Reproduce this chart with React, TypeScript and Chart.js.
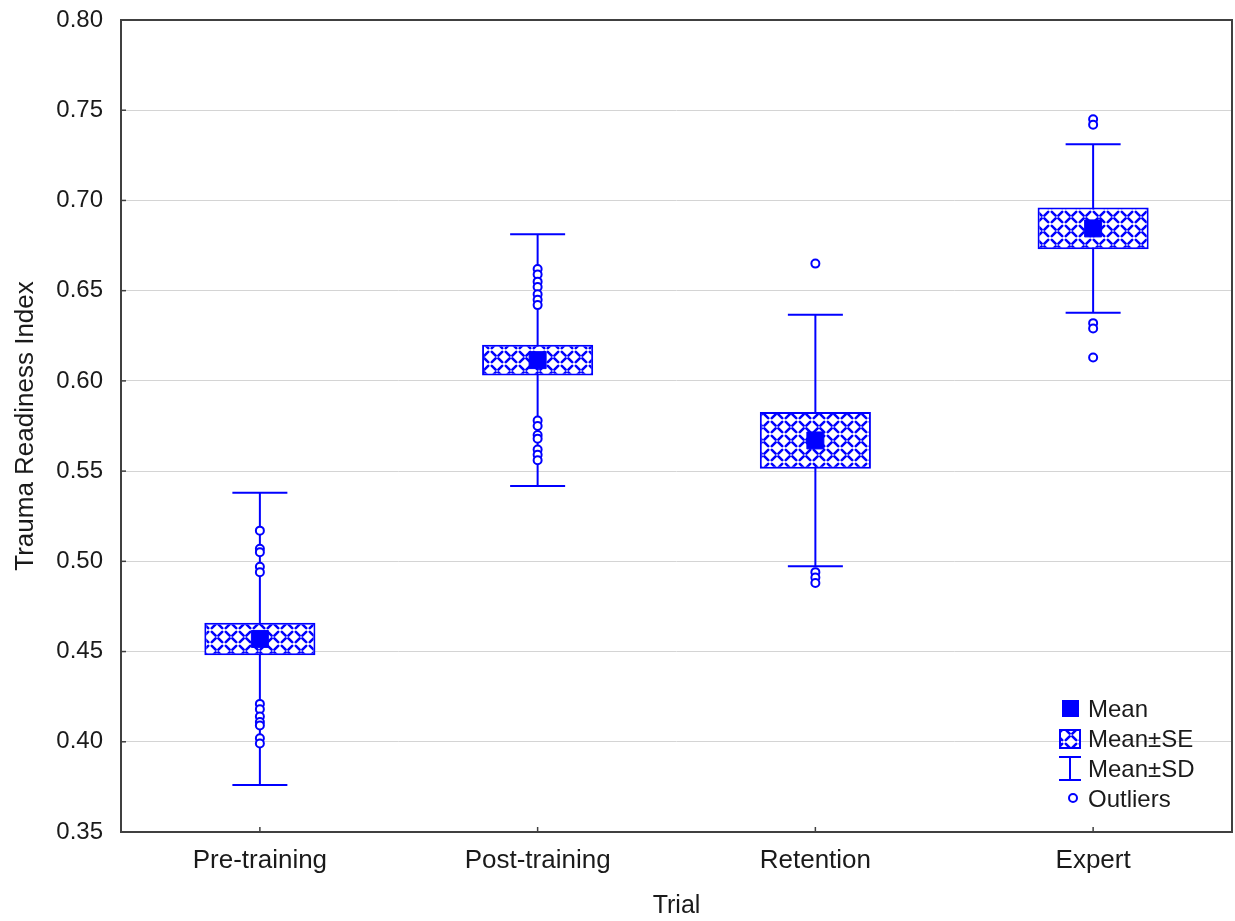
import React, { useEffect, useRef } from "react";
import { Chart, registerables } from "chart.js";

Chart.register(...registerables);

const categories = ["Pre-training", "Post-training", "Retention", "Expert"];
const means = [0.457, 0.6115, 0.567, 0.6845];
const se = [0.009, 0.0085, 0.0157, 0.0116];
const sd = [0.081, 0.0698, 0.0697, 0.0467];
const outliersPre = [0.517, 0.507, 0.505, 0.497, 0.494, 0.421, 0.418, 0.414, 0.411, 0.409, 0.402, 0.399];
const outliersPost = [0.662, 0.659, 0.655, 0.652, 0.648, 0.645, 0.642, 0.578, 0.575, 0.57, 0.568, 0.562, 0.559, 0.556];
const outliersRetention = [0.665, 0.494, 0.491, 0.488];
const outliersExpert = [0.745, 0.742, 0.632, 0.629, 0.613];
const outlierGroups = [outliersPre, outliersPost, outliersRetention, outliersExpert];
const yTicks = [0.35, 0.4, 0.45, 0.5, 0.55, 0.6, 0.65, 0.7, 0.75, 0.8];
const legendLabels = ["Mean", "Mean±SE", "Mean±SD", "Outliers"];

const BLUE = "#0000ff";
const FONT = "'Liberation Sans', Arial, sans-serif";
const TEXT = "#1a1a1a";

function makePattern(): CanvasPattern | string {
  const c = document.createElement("canvas");
  const S = 14;
  c.width = S;
  c.height = S;
  const g = c.getContext("2d");
  if (!g) return BLUE;
  g.fillStyle = "#ffffff";
  g.fillRect(0, 0, S, S);
  g.strokeStyle = BLUE;
  g.lineWidth = 2.6;
  g.lineCap = "round";
  g.beginPath();
  // weave: alternating "\" and "/" dashes in a checkerboard
  g.moveTo(1.8, 1.8);
  g.lineTo(5.6, 5.6);
  g.moveTo(8.4, 5.6);
  g.lineTo(12.2, 1.8);
  g.moveTo(1.8, 12.2);
  g.lineTo(5.6, 8.4);
  g.moveTo(8.4, 8.4);
  g.lineTo(12.2, 12.2);
  g.stroke();
  const p = g.createPattern(c, "repeat");
  return p || BLUE;
}

export default function App() {
  const ref = useRef<HTMLCanvasElement | null>(null);

  useEffect(() => {
    document.body.style.margin = "0";
    const canvas = ref.current;
    if (!canvas) return;
    const pattern = makePattern();

    const decor = {
      id: "decor",
      beforeDatasetsDraw(chart: any) {
        const { ctx, scales } = chart;
        const x = scales.x;
        const y = scales.y;
        ctx.save();
        ctx.strokeStyle = BLUE;
        ctx.lineWidth = 2;
        categories.forEach((_, i) => {
          const px = x.getPixelForValue(i);
          ctx.beginPath();
          ctx.moveTo(px, y.getPixelForValue(means[i] - sd[i]));
          ctx.lineTo(px, y.getPixelForValue(means[i] + sd[i]));
          ctx.stroke();
        });
        ctx.restore();
      },
      afterDatasetsDraw(chart: any) {
        const { ctx, chartArea: a, scales } = chart;
        ctx.save();
        // inward ticks
        ctx.strokeStyle = "#404040";
        ctx.lineWidth = 1.5;
        yTicks.forEach((v) => {
          const py = scales.y.getPixelForValue(v);
          ctx.beginPath();
          ctx.moveTo(a.left, py);
          ctx.lineTo(a.left + 5, py);
          ctx.stroke();
        });
        categories.forEach((_, i) => {
          const px = scales.x.getPixelForValue(i);
          ctx.beginPath();
          ctx.moveTo(px, a.bottom);
          ctx.lineTo(px, a.bottom - 5);
          ctx.stroke();
        });
        // frame
        ctx.strokeStyle = "#404040";
        ctx.lineWidth = 2;
        ctx.strokeRect(a.left, a.top, a.right - a.left, a.bottom - a.top);

        // legend
        const lx = a.right - 174;
        const rows = [a.bottom - 123, a.bottom - 93, a.bottom - 63, a.bottom - 33];
        const cx = lx + 12;
        // Mean
        ctx.fillStyle = BLUE;
        ctx.fillRect(cx - 8, rows[0] - 9, 17, 17);
        // Mean±SE
        ctx.fillStyle = pattern as any;
        ctx.fillRect(cx - 10, rows[1] - 9, 20, 18);
        ctx.strokeStyle = BLUE;
        ctx.lineWidth = 2;
        ctx.strokeRect(cx - 10, rows[1] - 9, 20, 18);
        // Mean±SD
        ctx.beginPath();
        ctx.moveTo(cx - 11, rows[2] - 12);
        ctx.lineTo(cx + 11, rows[2] - 12);
        ctx.moveTo(cx, rows[2] - 12);
        ctx.lineTo(cx, rows[2] + 11);
        ctx.moveTo(cx - 11, rows[2] + 11);
        ctx.lineTo(cx + 11, rows[2] + 11);
        ctx.stroke();
        // Outliers
        ctx.beginPath();
        ctx.arc(cx + 3, rows[3] - 1, 4, 0, Math.PI * 2);
        ctx.fillStyle = "#ffffff";
        ctx.fill();
        ctx.stroke();
        ctx.fillStyle = TEXT;
        ctx.font = `24px ${FONT}`;
        ctx.textAlign = "left";
        ctx.textBaseline = "middle";
        legendLabels.forEach((t, i) => {
          ctx.fillText(t, lx + 30, rows[i] + 1);
        });
        ctx.restore();
      },
    };

    const outlierData: { x: string; y: number }[] = [];
    outlierGroups.forEach((g, i) => g.forEach((v) => outlierData.push({ x: categories[i], y: v })));

    const chart = new Chart(canvas, {
      type: "bar",
      data: {
        labels: categories,
        datasets: [
          {
            type: "bar",
            label: "Mean±SE",
            data: categories.map((_, i) => [means[i] - se[i], means[i] + se[i]]) as any,
            backgroundColor: pattern as any,
            borderColor: BLUE,
            borderWidth: 2,
            borderSkipped: false,
            barPercentage: 0.4,
            categoryPercentage: 1,
            order: 4,
          },
          {
            type: "line",
            label: "SD caps",
            data: [
              ...categories.map((c, i) => ({ x: c, y: means[i] + sd[i] })),
              ...categories.map((c, i) => ({ x: c, y: means[i] - sd[i] })),
            ] as any,
            showLine: false,
            pointStyle: "line",
            pointRadius: 27.5,
            borderColor: BLUE,
            borderWidth: 2,
            order: 3,
          },
          {
            type: "line",
            label: "Outliers",
            data: outlierData as any,
            showLine: false,
            pointStyle: "circle",
            pointRadius: 4,
            backgroundColor: "#ffffff",
            borderColor: BLUE,
            borderWidth: 2,
            order: 2,
          },
          {
            type: "line",
            label: "Mean",
            data: categories.map((c, i) => ({ x: c, y: means[i] })) as any,
            showLine: false,
            pointStyle: "rect",
            pointRadius: 12,
            backgroundColor: BLUE,
            borderColor: BLUE,
            borderWidth: 1,
            order: 1,
          },
        ],
      },
      options: {
        responsive: false,
        animation: false,
        events: [],
        layout: { autoPadding: false, padding: { top: 20, right: 3, left: 0, bottom: 0 } },
        plugins: { legend: { display: false }, tooltip: { enabled: false } },
        scales: {
          x: {
            type: "category",
            offset: true,
            grid: { display: false, drawTicks: false },
            border: { display: false },
            ticks: { font: { size: 26, family: FONT }, color: TEXT, padding: 13 },
            title: { display: true, text: "Trial", font: { size: 25, family: FONT }, color: TEXT, padding: { top: 0, bottom: 0 } },
            afterFit: (s: any) => {
              s.height = 89;
              s.paddingLeft = 0;
              s.paddingRight = 0;
              s.paddingTop = 0;
              s.paddingBottom = 0;
            },
          },
          y: {
            type: "linear",
            min: 0.35,
            max: 0.8,
            grid: { color: "#d4d4d4", lineWidth: 1, drawTicks: false },
            border: { display: false },
            ticks: {
              stepSize: 0.05,
              font: { size: 24, family: FONT },
              color: TEXT,
              padding: 18,
              callback: (v: any) => Number(v).toFixed(2),
            },
            afterBuildTicks: (s: any) => {
              s.ticks = yTicks.map((v) => ({ value: v }));
            },
            title: { display: true, text: "Trauma Readiness Index", font: { size: 26, family: FONT }, color: TEXT, padding: { top: 10, bottom: 0 } },
            afterFit: (s: any) => {
              s.width = 121;
              s.paddingLeft = 0;
              s.paddingRight = 0;
              s.paddingTop = 0;
              s.paddingBottom = 0;
            },
          },
        },
      },
      plugins: [decor],
    } as any);

    return () => chart.destroy();
  }, []);

  return (
    <div style={{ width: 1235, height: 921 }}>
      <canvas ref={ref} width={1235} height={921} style={{ display: "block" }} />
    </div>
  );
}
